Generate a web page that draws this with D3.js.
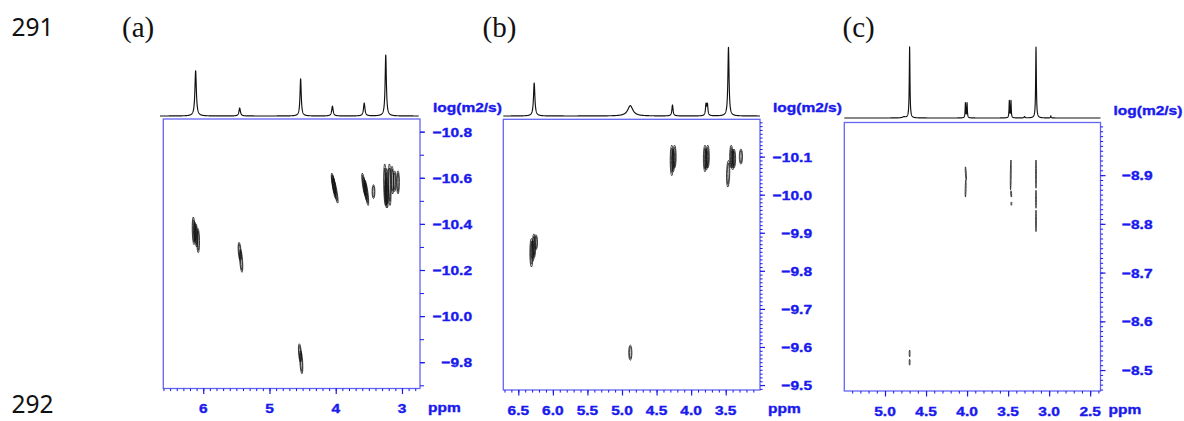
<!DOCTYPE html>
<html><head><meta charset="utf-8">
<script src="https://cdn.jsdelivr.net/npm/d3@7"></script>
<style>
html,body{margin:0;padding:0;background:#fff;}
svg{display:block;}
</style></head>
<body>
<svg id="chart" width="1184" height="421"></svg>
<script>
// ---------------- DATA ----------------
// axis tick labels
const xTicksA = [6, 5, 4, 3];
const yTicksA = [-10.8, -10.6, -10.4, -10.2, -10.0, -9.8];
const xTicksB = [6.5, 6.0, 5.5, 5.0, 4.5, 4.0, 3.5];
const yTicksB = [-10.1, -10.0, -9.9, -9.8, -9.7, -9.6, -9.5];
const xTicksC = [5.0, 4.5, 4.0, 3.5, 3.0, 2.5];
const yTicksC = [-8.9, -8.8, -8.7, -8.6, -8.5];

// 1D 1H spectra: peak positions (ppm), relative intensities, half widths (ppm)
const specPpmA = [6.115, 5.45, 4.53, 4.05, 3.57, 3.245];
const specIntA = [0.74, 0.13, 0.61, 0.16, 0.21, 1.0];
const specWidA = [0.013, 0.013, 0.011, 0.013, 0.013, 0.011];

const specPpmB = [6.27, 4.88, 4.27, 3.785, 3.765, 3.46];
const specIntB = [0.48, 0.15, 0.16, 0.16, 0.16, 1.0];
const specWidB = [0.012, 0.045, 0.010, 0.009, 0.009, 0.010];

const specPpmC = [4.77, 4.70, 4.02, 4.00, 3.485, 3.465, 3.30, 3.16, 2.98];
const specIntC = [0.015, 1.0, 0.21, 0.21, 0.24, 0.24, 0.02, 1.0, 0.03];
const specWidC = [0.02, 0.005, 0.004, 0.004, 0.004, 0.004, 0.006, 0.005, 0.004];

// DOSY cross peaks, one streak per row: [ppm top, logD top, ppm bottom, logD bottom]
const crossA = [
  [6.15, -10.43, 6.14, -10.31], [6.13, -10.41, 6.12, -10.32], [6.11, -10.40, 6.10, -10.30],
  [6.08, -10.38, 6.075, -10.275],
  [5.46, -10.32, 5.44, -10.24], [5.44, -10.29, 5.415, -10.19],
  [4.55, -9.88, 4.53, -9.80], [4.53, -9.85, 4.51, -9.75],
  [4.06, -10.62, 4.01, -10.53], [4.05, -10.61, 4.00, -10.51], [4.04, -10.60, 3.97, -10.49],
  [3.60, -10.62, 3.55, -10.52], [3.58, -10.60, 3.53, -10.50], [3.56, -10.59, 3.51, -10.48],
  [3.43, -10.57, 3.43, -10.51],
  [3.26, -10.66, 3.25, -10.48], [3.24, -10.60, 3.235, -10.47], [3.23, -10.64, 3.22, -10.47],
  [3.19, -10.66, 3.18, -10.48], [3.15, -10.65, 3.14, -10.53], [3.11, -10.63, 3.11, -10.54],
  [3.06, -10.63, 3.06, -10.53]
];
const crossB = [
  [6.31, -9.885, 6.31, -9.81], [6.29, -9.88, 6.29, -9.825], [6.275, -9.897, 6.27, -9.835],
  [6.245, -9.895, 6.245, -9.855],
  [4.88, -9.605, 4.88, -9.565],
  [4.28, -10.13, 4.28, -10.05], [4.26, -10.12, 4.26, -10.06], [4.24, -10.13, 4.24, -10.07],
  [3.80, -10.13, 3.80, -10.06], [3.78, -10.12, 3.78, -10.065], [3.76, -10.13, 3.76, -10.07],
  [3.46, -10.09, 3.47, -10.02],
  [3.42, -10.13, 3.42, -10.07], [3.40, -10.12, 3.40, -10.065], [3.38, -10.12, 3.38, -10.07],
  [3.28, -10.12, 3.28, -10.08]
];
const crossC = [
  [4.02, -8.917, 4.01, -8.89], [4.015, -8.89, 4.02, -8.855],
  [3.465, -8.931, 3.47, -8.87], [3.465, -8.868, 3.46, -8.855], [3.46, -8.845, 3.46, -8.838],
  [3.16, -8.931, 3.16, -8.873], [3.16, -8.869, 3.16, -8.832], [3.16, -8.828, 3.16, -8.784],
  [4.70, -8.541, 4.70, -8.527], [4.70, -8.522, 4.70, -8.51]
];

// ---------------- LAYOUT ----------------
const blue = "#1a1aee";
const boxBlue = "#6565f3";
const panels = [
  { label: "(a)", labelX: 122, box: [163.3, 119, 420, 388.5],
    xDom: [6.603, 2.728], yDom: [-10.855, -9.686],
    xTicks: xTicksA, xFmt: d3.format("d"), yTicks: yTicksA,
    xMinor: 0.1, yMinor: 0.1,
    spec: [specPpmA, specIntA, specWidA], specBase: 116, specMax: 61, specDom: [6.653, 2.748],
    cross: crossA, hw: 1.4, rings: [1, 0.55] },
  { label: "(b)", labelX: 482.5, box: [503.3, 119.3, 760, 390],
    xDom: [6.717, 3.004], yDom: [-10.198, -9.487],
    xTicks: xTicksB, xFmt: d3.format(".1f"), yTicks: yTicksB,
    xMinor: 0.1, yMinor: 0.01,
    spec: [specPpmB, specIntB, specWidB], specBase: 116, specMax: 68.7, specDom: [6.717, 3.004],
    cross: crossB, hw: 1.6, rings: [1, 0.55] },
  { label: "(c)", labelX: 842.5, box: [844.3, 122.5, 1100.5, 391],
    xDom: [5.496, 2.374], yDom: [-9.008, -8.457],
    xTicks: xTicksC, xFmt: d3.format(".1f"), yTicks: yTicksC,
    xMinor: 0.1, yMinor: 0.01,
    spec: [specPpmC, specIntC, specWidC], specBase: 118, specMax: 71, specDom: [5.496, 2.374],
    cross: crossC, hw: 0.45, rings: [1] }
];

const svg = d3.select("#chart");
const sansB = "'Liberation Sans', Arial, Helvetica, sans-serif";

function squashText(g, x, y, txt, anchor, size) {
  return g.append("text")
    .attr("transform", `translate(${x},${y}) scale(1,0.87)`)
    .attr("text-anchor", anchor)
    .attr("font-family", sansB).attr("font-weight", "bold")
    .attr("font-size", size).attr("fill", blue)
    .attr("stroke", blue).attr("stroke-width", 0.45)
    .text(txt);
}

// line numbers
svg.append("text").attr("x", 11.5).attr("y", 36).attr("font-family", "'Noto Sans', 'Open Sans', sans-serif")
  .attr("font-size", 24.5).attr("fill", "#111").text("291");
svg.append("text").attr("x", 11.5).attr("y", 413).attr("font-family", "'Noto Sans', 'Open Sans', sans-serif")
  .attr("font-size", 24.5).attr("fill", "#111").text("292");

panels.forEach(p => {
  const [L, T, R, B] = p.box;
  const xs = d3.scaleLinear().domain(p.xDom).range([L, R]);
  const ys = d3.scaleLinear().domain(p.yDom).range([T, B]);
  const g = svg.append("g");

  // panel label
  g.append("text").attr("x", p.labelX).attr("y", 37)
    .attr("font-family", "'Liberation Serif', 'Times New Roman', serif")
    .attr("font-size", 29).attr("fill", "#111").text(p.label);

  // 1D spectrum (sum of Lorentzian lines)
  const [pp, ii, ww] = p.spec;
  const sy = d3.scaleLinear().domain([0, 1]).range([p.specBase, p.specBase - p.specMax]);
  const lo = Math.min(...p.specDom), hi = Math.max(...p.specDom);
  let grid = d3.range(lo, hi, 0.0015).concat(pp).concat([hi]).filter(v => v >= lo && v <= hi);
  grid.sort((a, b) => b - a);
  const specVal = v => d3.sum(pp, (c, k) => ii[k] * ww[k] * ww[k] / (ww[k] * ww[k] + (v - c) * (v - c)));
  g.append("path")
    .attr("d", d3.line().x(v => xs(v)).y(v => sy(specVal(v)))(grid))
    .attr("fill", "none").attr("stroke", "#111").attr("stroke-width", 1.15)
    .attr("stroke-linejoin", "round");

  // box
  g.append("rect").attr("x", L).attr("y", T).attr("width", R - L).attr("height", B - T)
    .attr("fill", "none").attr("stroke", boxBlue).attr("stroke-width", 1.3);

  // bottom axis: minor + major ticks
  const xlo = Math.min(...p.xDom), xhi = Math.max(...p.xDom);
  const xMinorVals = d3.range(Math.ceil(xlo / p.xMinor - 1e-6), Math.floor(xhi / p.xMinor + 1e-6) + 1)
    .map(i => +(i * p.xMinor).toFixed(3));
  const axB = g.append("g").attr("transform", `translate(0,${B})`)
    .call(d3.axisBottom(xs).tickValues(xMinorVals).tickSize(2.6).tickFormat(""));
  axB.select(".domain").remove();
  axB.selectAll("line").attr("stroke", blue).attr("stroke-width", 1);
  const axBM = g.append("g").attr("transform", `translate(0,${B})`)
    .call(d3.axisBottom(xs).tickValues(p.xTicks).tickSize(5.5).tickFormat(""));
  axBM.select(".domain").remove();
  axBM.selectAll("line").attr("stroke", blue).attr("stroke-width", 1.2);
  p.xTicks.forEach(t => squashText(g, xs(t), B + 24.5, p.xFmt(t), "middle", 15.5));
  squashText(g, R + 8, B + 23, "ppm", "start", 15.5);

  // right axis: minor + major ticks
  const ylo = Math.min(...p.yDom), yhi = Math.max(...p.yDom);
  const yMinorVals = d3.range(Math.ceil(ylo / p.yMinor - 1e-6), Math.floor(yhi / p.yMinor + 1e-6) + 1)
    .map(i => +(i * p.yMinor).toFixed(3));
  const axR = g.append("g").attr("transform", `translate(${R},0)`)
    .call(d3.axisRight(ys).tickValues(yMinorVals).tickSize(p.yMinor >= 0.1 ? 4 : 2.6).tickFormat(""));
  axR.select(".domain").remove();
  axR.selectAll("line").attr("stroke", blue).attr("stroke-width", 1);
  const axRM = g.append("g").attr("transform", `translate(${R},0)`)
    .call(d3.axisRight(ys).tickValues(p.yTicks).tickSize(5).tickFormat(""));
  axRM.select(".domain").remove();
  axRM.selectAll("line").attr("stroke", blue).attr("stroke-width", 1.2);
  p.yTicks.forEach(t => squashText(g, R + 52, ys(t) + 5, d3.format(".1f")(t), "end", 15.5));
  squashText(g, R + 13, T - 7.5, "log(m2/s)", "start", 15.5);

  // cross peaks
  const cg = g.append("g");
  p.cross.forEach(s => {
    const x1 = xs(s[0]), y1 = ys(s[1]), x2 = xs(s[2]), y2 = ys(s[3]);
    const cx = (x1 + x2) / 2, cy = (y1 + y2) / 2;
    const len = Math.hypot(x2 - x1, y2 - y1);
    const ang = Math.atan2(y2 - y1, x2 - x1) * 180 / Math.PI;
    p.rings.forEach(f => {
      cg.append("ellipse").attr("cx", cx).attr("cy", cy)
        .attr("rx", len / 2 * (f === 1 ? 1 : 0.8)).attr("ry", p.hw * f)
        .attr("transform", `rotate(${ang},${cx},${cy})`)
        .attr("fill", "none").attr("stroke", "#111").attr("stroke-width", 0.75);
    });
  });
});
</script>
</body></html>
